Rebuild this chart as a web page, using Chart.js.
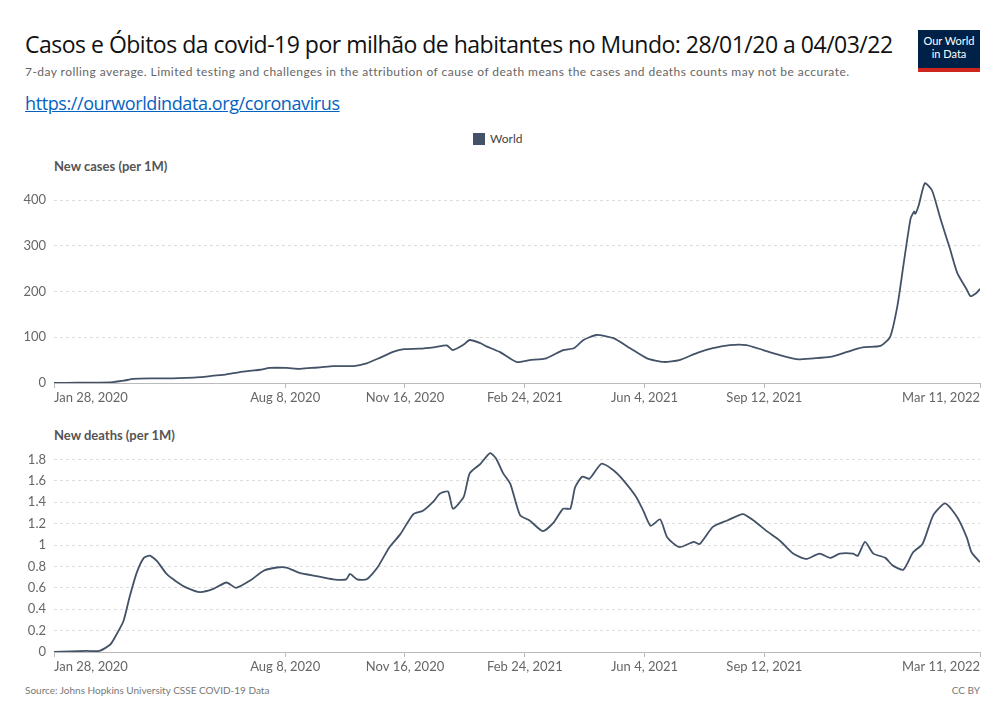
<!DOCTYPE html>
<html>
<head>
<meta charset="utf-8">
<script src="https://cdn.jsdelivr.net/npm/chart.js@4.4.1/dist/chart.umd.min.js"></script>
<style>
    body { margin: 0; background: #fff; font-family: Lato, "Open Sans", sans-serif; }
    #page { position: relative; width: 984px; height: 716px; overflow: hidden; }
    .abs { position: absolute; white-space: nowrap; }
    #title { left: 25px; top: 28px; font-size: 23px; color: #111; font-family: "Open Sans", Lato, sans-serif; letter-spacing: -0.5px; }
    #subtitle { left: 25px; top: 64px; font-size: 12px; color: #666; letter-spacing: 0.45px; }
    #link { left: 25px; top: 91px; font-size: 18px; color: #0563c1; text-decoration: underline; font-family: "Open Sans", Lato, sans-serif; letter-spacing: -0.4px; }
    #logo { left: 918px; top: 30px; width: 62px; background: #002147; border-bottom: 4px solid #ce261e;
            color: #fff; font-size: 11px; line-height: 13px; text-align: center; padding-top: 4px; box-sizing: content-box; height: 34px; }
    #legend { left: 473px; top: 131px; font-size: 12px; color: #444; }
    #legend span { display: inline-block; width: 12px; height: 12px; background: #435266; vertical-align: -2px; margin-right: 5px; }
    .panel-title { font-size: 13px; font-weight: bold; color: #555; }
    #foot-left { left: 25px; top: 684px; font-size: 10px; color: #777; }
    #foot-right { right: 4px; top: 684px; font-size: 10px; color: #777; }
    canvas { position: absolute; left: 0; }
</style>
</head>
<body>
<div id="page">
    <div id="title" class="abs">Casos e Óbitos da covid-19 por milhão de habitantes no Mundo: 28/01/20 a 04/03/22</div>
    <div id="subtitle" class="abs">7-day rolling average. Limited testing and challenges in the attribution of cause of death means the cases and deaths counts may not be accurate.</div>
    <div id="link" class="abs">https://ourworldindata.org/coronavirus</div>
    <div id="logo" class="abs">Our World<br>in Data</div>
    <div id="legend" class="abs"><span></span>World</div>
    <div class="abs panel-title" style="left:54px; top:158px;">New cases (per 1M)</div>
    <div class="abs panel-title" style="left:54px; top:427px;">New deaths (per 1M)</div>
    <canvas id="cases-chart" width="984" height="241" style="top:166px;"></canvas>
    <canvas id="deaths-chart" width="984" height="243" style="top:433px;"></canvas>
    <div id="foot-left" class="abs">Source: Johns Hopkins University CSSE COVID-19 Data</div>
    <div id="foot-right" class="abs">CC BY</div>
</div>
<script>
// x values are days since Jan 28, 2020
const tickDays = [0, 193, 293, 393, 493, 593, 773];
const tickLabels = ["Jan 28, 2020", "Aug 8, 2020", "Nov 16, 2020", "Feb 24, 2021", "Jun 4, 2021", "Sep 12, 2021", "Mar 11, 2022"];

const caseDays = [0, 20, 38, 49, 58, 66, 80, 99, 110, 122, 133, 144, 155, 165, 172, 180, 194, 205, 215, 222, 233, 250, 261, 272, 283, 292, 305, 317, 328, 333, 342, 347, 356, 361, 372, 386, 397, 411, 425, 434, 442, 453, 467, 481, 495, 509, 522, 537, 550, 564, 578, 592, 606, 620, 634, 648, 662, 675, 690, 698, 704, 709, 715, 718, 719, 722, 727, 733, 740, 748, 754, 762, 765, 770, 773];
const caseValues = [0, 0.5, 1, 2, 5, 9, 10, 10, 11, 13, 16, 19, 24, 27, 29, 33, 33, 31, 33, 34, 37, 37, 43, 55, 68, 74, 75, 78, 82, 72, 84, 94, 87, 80, 68, 46, 50, 54, 72, 76, 94, 105, 98, 76, 54, 46, 50, 66, 76, 83, 83, 72, 61, 52, 54, 57, 68, 78, 81, 101, 168, 256, 359, 375, 370, 390, 437, 421, 359, 293, 241, 204, 190, 197, 206];
const caseTicks = [0, 100, 200, 300, 400];

const deathDays = [0, 27, 38, 47, 52, 58, 63, 69, 75, 80, 86, 94, 102, 111, 122, 133, 144, 152, 164, 175, 186, 194, 205, 219, 233, 244, 247, 253, 261, 270, 280, 289, 300, 308, 317, 322, 329, 333, 342, 347, 356, 364, 369, 375, 381, 389, 397, 408, 417, 425, 431, 435, 441, 447, 457, 467, 475, 486, 492, 498, 506, 512, 522, 534, 539, 550, 562, 575, 584, 595, 606, 617, 628, 639, 648, 656, 667, 671, 677, 684, 694, 700, 709, 717, 725, 734, 744, 754, 762, 766, 773];
const deathValues = [0, 0.01, 0.01, 0.07, 0.16, 0.29, 0.51, 0.74, 0.88, 0.90, 0.85, 0.73, 0.66, 0.60, 0.56, 0.59, 0.65, 0.60, 0.67, 0.76, 0.79, 0.79, 0.74, 0.71, 0.68, 0.68, 0.73, 0.68, 0.68, 0.79, 0.98, 1.10, 1.29, 1.32, 1.41, 1.48, 1.50, 1.34, 1.45, 1.67, 1.76, 1.86, 1.81, 1.67, 1.57, 1.28, 1.23, 1.13, 1.21, 1.34, 1.34, 1.54, 1.64, 1.62, 1.76, 1.70, 1.61, 1.45, 1.32, 1.18, 1.24, 1.07, 0.98, 1.03, 1.01, 1.17, 1.23, 1.29, 1.23, 1.13, 1.04, 0.92, 0.87, 0.92, 0.88, 0.92, 0.92, 0.90, 1.03, 0.92, 0.88, 0.81, 0.77, 0.93, 1.01, 1.28, 1.39, 1.26, 1.07, 0.93, 0.84];
const deathTicks = [0, 0.2, 0.4, 0.6, 0.8, 1, 1.2, 1.4, 1.6, 1.8];

const lineColor = '#435266';
const labelFont = { family: 'Lato, sans-serif', size: 13 };

function makeChart(canvasId, days, values, yTicks, yMax, padTop) {
    const ctx = document.getElementById(canvasId).getContext('2d');
    return new Chart(ctx, {
        type: 'line',
        data: {
            datasets: [{
                data: days.map((d, i) => ({ x: d, y: values[i] })),
                borderColor: lineColor,
                borderWidth: 1.8,
                pointRadius: 0,
                tension: 0.2,
                fill: false
            }]
        },
        options: {
            responsive: false,
            animation: false,
            layout: { padding: { top: padTop, right: 4, left: 0, bottom: 0 } },
            plugins: { legend: { display: false }, tooltip: { enabled: false } },
            scales: {
                x: {
                    type: 'linear',
                    min: 0,
                    max: 773,
                    afterBuildTicks: scale => { scale.ticks = tickDays.map(v => ({ value: v })); },
                    afterFit: scale => { scale.height = 24; },
                    ticks: {
                        autoSkip: false,
                        maxRotation: 0,
                        align: 'inner',
                        padding: 2,
                        color: '#666',
                        font: labelFont,
                        callback: (value, index) => tickLabels[index]
                    },
                    grid: { drawOnChartArea: false, drawTicks: true, tickLength: 5, color: '#bbb' },
                    border: { color: '#bbb' }
                },
                y: {
                    min: 0,
                    max: yMax,
                    afterBuildTicks: scale => { scale.ticks = yTicks.map(v => ({ value: v })); },
                    afterFit: scale => { scale.width = 54; },
                    ticks: {
                        padding: 8,
                        color: '#666',
                        font: labelFont,
                        callback: value => String(value)
                    },
                    grid: { color: '#ddd', drawTicks: false },
                    border: { display: false, dash: [3, 3] }
                }
            }
        }
    });
}

makeChart('cases-chart', caseDays, caseValues, caseTicks, 440, 6);
makeChart('deaths-chart', deathDays, deathValues, deathTicks, 1.9, 9);
</script>
</body>
</html>
